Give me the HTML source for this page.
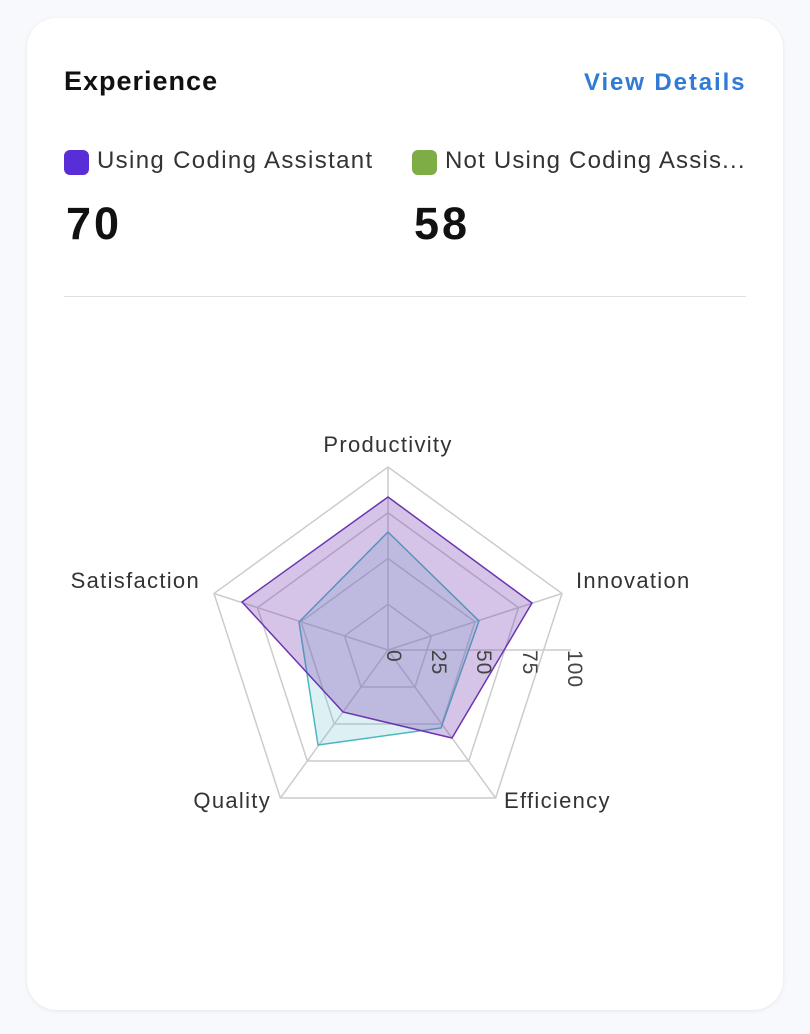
<!DOCTYPE html>
<html><head><meta charset="utf-8"><style>
body{margin:0;width:810px;height:1034px;background:#f8f9fc;font-family:"Liberation Sans",sans-serif;position:relative;overflow:hidden}
.card{position:absolute;left:27px;top:18px;width:756px;height:992px;background:#fff;border-radius:30px;box-shadow:0 1px 4px rgba(0,0,0,0.08)}
.t{position:absolute;white-space:nowrap}
</style></head><body>
<div class="card"></div>
<div class="t" style="left:64px;top:66px;font-size:27px;font-weight:bold;color:#111;letter-spacing:1px">Experience</div>
<div class="t" style="left:584px;top:69px;font-size:24px;font-weight:bold;color:#2f7bd6;letter-spacing:1.9px">View Details</div>
<div style="position:absolute;left:64px;top:150px;width:25px;height:25px;border-radius:6px;background:#5a2ed6"></div>
<div class="t" style="left:97px;top:147px;font-size:24px;color:#333;letter-spacing:1.35px">Using Coding Assistant</div>
<div style="position:absolute;left:412px;top:150px;width:25px;height:25px;border-radius:6px;background:#7fad45"></div>
<div class="t" style="left:445px;top:147px;font-size:24px;color:#333;letter-spacing:1.2px">Not Using Coding Assis...</div>
<div class="t" style="left:66px;top:198px;font-size:45px;font-weight:bold;color:#111;letter-spacing:3px">70</div>
<div class="t" style="left:414px;top:198px;font-size:45px;font-weight:bold;color:#111;letter-spacing:3px">58</div>
<div style="position:absolute;left:64px;top:296px;width:682px;height:1px;background:#dedfe6"></div>
<svg width="810" height="1034" style="position:absolute;left:0;top:0" font-family="Liberation Sans, sans-serif">
<g fill="none" stroke="#cccccc" stroke-width="1.5">
<polygon points="388,467 562,593.5 495.6,798 280.4,798 214,593.5"/>
<polygon points="388,512.75 518.5,607.6 468.7,761 307.3,761 257.5,607.6"/>
<polygon points="388,558.5 475,621.8 441.8,724 334.2,724 301,621.8"/>
<polygon points="388,604.25 431.5,635.9 414.9,687 361.1,687 344.5,635.9"/>
<line x1="388" y1="650" x2="388" y2="467"/><line x1="388" y1="650" x2="562" y2="593.5"/><line x1="388" y1="650" x2="495.6" y2="798"/><line x1="388" y1="650" x2="280.4" y2="798"/><line x1="388" y1="650" x2="214" y2="593.5"/>
<line x1="388" y1="650" x2="571" y2="650"/>
</g>
<polygon points="388,532 479,621 441,728 318,745 299,622" fill="rgba(100,185,200,0.22)" stroke="#4bb8c0" stroke-width="1.5"/>
<polygon points="388,497 532,603 452,738 343,712 242,602" fill="rgba(120,60,180,0.3)" stroke="#6a35b0" stroke-width="1.5"/>
<g font-size="22" fill="#333" letter-spacing="1.3">
<text x="388" y="452" text-anchor="middle">Productivity</text>
<text x="576" y="588">Innovation</text>
<text x="504" y="808">Efficiency</text>
<text x="271" y="808" text-anchor="end">Quality</text>
<text x="200" y="588" text-anchor="end">Satisfaction</text>
</g>
<g font-size="21" fill="#444" letter-spacing="1">
<text transform="translate(387,650) rotate(90)">0</text>
<text transform="translate(432,650) rotate(90)">25</text>
<text transform="translate(477,650) rotate(90)">50</text>
<text transform="translate(523,650) rotate(90)">75</text>
<text transform="translate(568,650) rotate(90)">100</text>
</g>
</svg>
</body></html>
